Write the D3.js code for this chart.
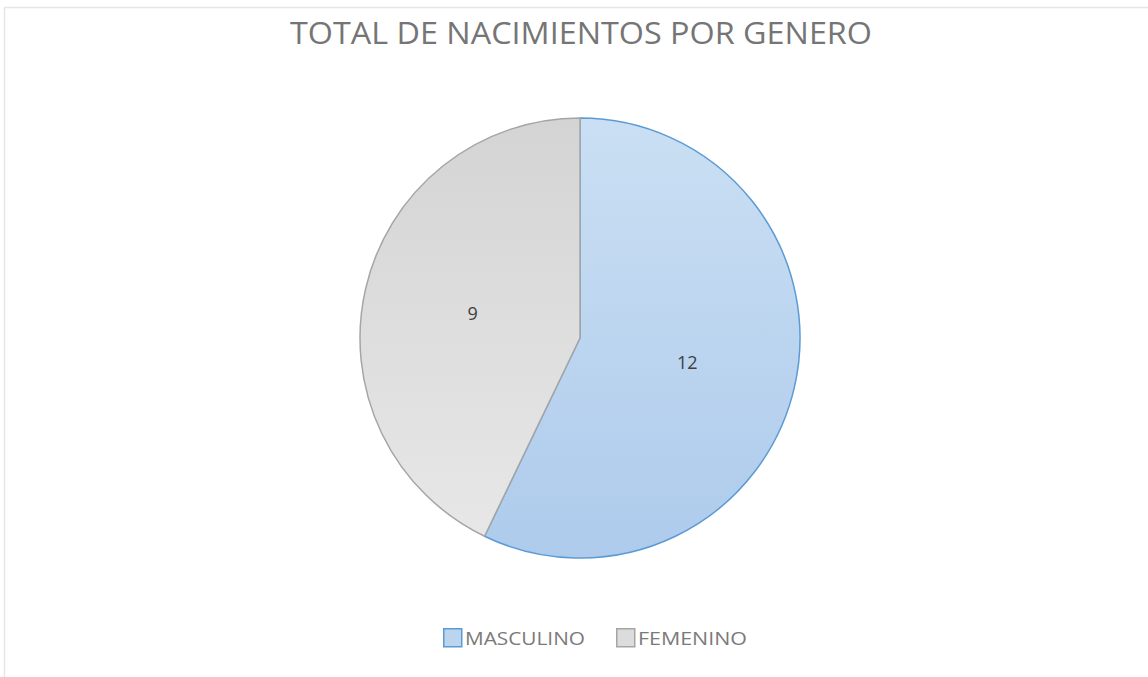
<!DOCTYPE html>
<html>
<head>
<meta charset="utf-8">
<script src="https://cdnjs.cloudflare.com/ajax/libs/d3/7.8.5/d3.min.js"></script>
<style>
    body { margin: 0; background: #fff; }
    svg { display: block; }
    text { font-family: "Open Sans", "Liberation Sans", sans-serif; }
</style>
</head>
<body>
<div id="chart"></div>
<script>
// chart data
var title = "TOTAL DE NACIMIENTOS POR GENERO";
var categories = ["MASCULINO", "FEMENINO"];
var values = [12, 9];

var width = 1148, height = 677;
var cx = 580, cy = 338, radius = 220;

var svg = d3.select("#chart")
    .append("svg")
    .attr("width", width)
    .attr("height", height);

// light frame (chart area border, cut off at right/bottom)
svg.append("rect")
    .attr("x", 4.5).attr("y", 7.5)
    .attr("width", width + 10).attr("height", height + 10)
    .attr("fill", "none")
    .attr("stroke", "#e6e6e6")
    .attr("stroke-width", 1.5);

var colors = {
    "MASCULINO": { top: "#cadff3", bottom: "#aecbec", stroke: "#5b9bd5" },
    "FEMENINO": { top: "#d4d4d4", bottom: "#e8e8e8", stroke: "#a5a5a5" }
};

// gradients for slices
var defs = svg.append("defs");
categories.forEach(function (c, i) {
    var g = defs.append("linearGradient")
        .attr("id", "grad" + i)
        .attr("gradientUnits", "userSpaceOnUse")
        .attr("x1", 0).attr("y1", cy - radius)
        .attr("x2", 0).attr("y2", cy + radius);
    g.append("stop").attr("offset", "0%").attr("stop-color", colors[c].top);
    g.append("stop").attr("offset", "100%").attr("stop-color", colors[c].bottom);
});

svg.append("text")
    .attr("x", 581)
    .attr("y", 44)
    .attr("text-anchor", "middle")
    .attr("font-size", 31)
    .attr("fill", "#757575")
    .attr("textLength", 582)
    .attr("lengthAdjust", "spacingAndGlyphs")
    .text(title);

var pie = d3.pie().sort(null).value(function (d) { return d; });
var arc = d3.arc().innerRadius(0).outerRadius(radius);
var labelArc = d3.arc().innerRadius(0).outerRadius(radius);

var arcs = pie(values);

var g = svg.append("g").attr("transform", "translate(" + cx + "," + cy + ")");

// gradient is in user space of svg, so shift it for the group
defs.selectAll("linearGradient")
    .attr("y1", -radius).attr("y2", radius);

g.selectAll("path.slice")
    .data(arcs)
    .enter()
    .append("path")
    .attr("class", "slice")
    .attr("d", arc)
    .attr("fill", function (d, i) { return "url(#grad" + i + ")"; })
    .attr("stroke", function (d, i) { return colors[categories[i]].stroke; })
    .attr("stroke-width", 1.5)
    .attr("stroke-linejoin", "round");

g.selectAll("text.label")
    .data(arcs)
    .enter()
    .append("text")
    .attr("class", "label")
    .attr("transform", function (d) {
        var c = labelArc.centroid(d);
        return "translate(" + c[0] + "," + c[1] + ")";
    })
    .attr("text-anchor", "middle")
    .attr("dy", "0.35em")
    .attr("font-size", 18)
    .attr("fill", "#404040")
    .text(function (d) { return d.data; });

// legend
var legendX = [443, 616];
var textLen = [120, 109];
var legend = svg.append("g");
categories.forEach(function (c, i) {
    legend.append("rect")
        .attr("x", legendX[i] + 0.75)
        .attr("y", 628.75)
        .attr("width", 18)
        .attr("height", 18)
        .attr("fill", i === 0 ? "#bcd5ef" : "#dcdcdc")
        .attr("stroke", colors[c].stroke)
        .attr("stroke-width", 1.5);
    legend.append("text")
        .attr("x", legendX[i] + 22)
        .attr("y", 645)
        .attr("font-size", 18)
        .attr("fill", "#7a7a7a")
        .attr("textLength", textLen[i])
        .attr("lengthAdjust", "spacingAndGlyphs")
        .text(c);
});
</script>
</body>
</html>
